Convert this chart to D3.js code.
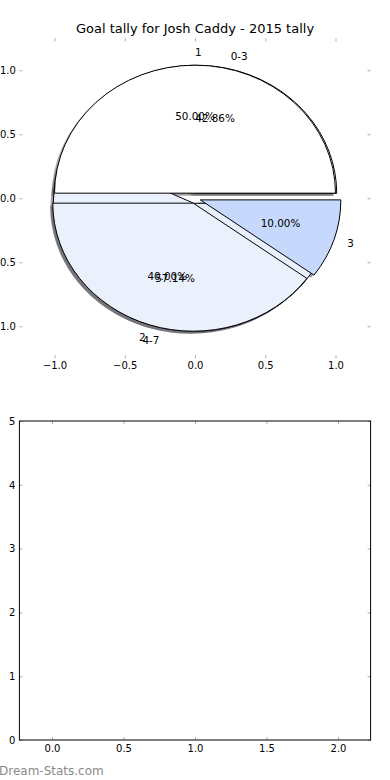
<!DOCTYPE html>
<html>
<head>
<meta charset="utf-8">
<script src="https://cdn.jsdelivr.net/npm/d3@7"></script>
<style>
body { margin: 0; background: #fff; }
text { font-family: "DejaVu Sans", sans-serif; }
</style>
</head>
<body>
<div id="chart"></div>
<script>
var titleText = "Goal tally for Josh Caddy - 2015 tally";
var tallyLabels = ["1", "2", "3"];
var tallyValues = [5, 4, 1];
var tallyColors = ["#ffffff", "#eaf1fd", "#c6d9fd"];
var rangeLabels = ["0-3", "4-7"];
var rangeValues = [3, 4];
var rangeColors = ["#ffffff", "#eaf1fd"];
var pieTicks = [-1.0, -0.5, 0.0, 0.5, 1.0];
var barXTicks = [0.0, 0.5, 1.0, 1.5, 2.0];
var barYTicks = [0, 1, 2, 3, 4, 5];

var width = 390;
var height = 780;
var explode = 0.04;
var shadowOffset = 0.02;

var svg = d3.select("#chart")
    .append("svg")
    .attr("width", width)
    .attr("height", height);

// pie axes (limits -1.25..1.25 like matplotlib)
var x = d3.scaleLinear().domain([-1.25, 1.25]).range([19.4, 370.6]);
var y = d3.scaleLinear().domain([-1.25, 1.25]).range([358.3, 38.3]);
var kx = x(1) - x(0);
var ky = y(0) - y(1);

function wedges(values, labels, colors) {
    var total = d3.sum(values);
    var pie = d3.pie().sort(null).startAngle(0).endAngle(2 * Math.PI);
    return pie(values).map(function(d, i) {
        var tm = (d.startAngle + d.endAngle) / 2;
        return {
            label: labels[i], color: colors[i],
            t1: d.startAngle, t2: d.endAngle, tm: tm,
            cx: explode * Math.cos(tm), cy: explode * Math.sin(tm),
            pct: (d.value / total * 100).toFixed(2) + "%"
        };
    });
}

var rangeW = wedges(rangeValues, rangeLabels, rangeColors);
var tallyW = wedges(tallyValues, tallyLabels, tallyColors);

var arc = d3.arc()
    .innerRadius(0)
    .outerRadius(1)
    .startAngle(function(d) { return Math.PI / 2 - d.t2; })
    .endAngle(function(d) { return Math.PI / 2 - d.t1; });

var pieG = svg.append("g");

// shadows sit under every wedge
pieG.append("g").selectAll("path")
    .data(rangeW.concat(tallyW))
    .enter()
        .append("path")
        .attr("d", arc)
        .attr("transform", function(d) {
            return "translate(" + x(d.cx - shadowOffset) + "," + y(d.cy - shadowOffset) + ") scale(" + kx + "," + ky + ")";
        })
        .attr("fill", function(d) {
            var c = d3.rgb(d.color);
            return d3.rgb(c.r * 0.3, c.g * 0.3, c.b * 0.3);
        })
        .attr("opacity", 0.5);

[rangeW, tallyW].forEach(function(ws) {
    pieG.append("g").selectAll("path")
        .data(ws)
        .enter()
            .append("path")
            .attr("d", arc)
            .attr("transform", function(d) {
                return "translate(" + x(d.cx) + "," + y(d.cy) + ") scale(" + kx + "," + ky + ")";
            })
            .attr("fill", function(d) { return d.color; })
            .attr("stroke", "#000")
            .attr("stroke-width", 1)
            .attr("vector-effect", "non-scaling-stroke");
});

[rangeW, tallyW].forEach(function(ws) {
    var g = pieG.append("g").attr("font-size", "10.4px").attr("fill", "#000");
    g.selectAll("text.lab")
        .data(ws)
        .enter()
            .append("text")
            .attr("x", function(d) { return x(d.cx + 1.1 * Math.cos(d.tm)); })
            .attr("y", function(d) { return y(d.cy + 1.1 * Math.sin(d.tm)); })
            .attr("dy", "0.36em")
            .attr("text-anchor", function(d) { return (d.cx + 1.1 * Math.cos(d.tm)) > 0 ? "start" : "end"; })
            .text(function(d) { return d.label; });
    g.selectAll("text.pct")
        .data(ws)
        .enter()
            .append("text")
            .attr("x", function(d) { return x(d.cx + 0.6 * Math.cos(d.tm)); })
            .attr("y", function(d) { return y(d.cy + 0.6 * Math.sin(d.tm)); })
            .attr("dy", "0.36em")
            .attr("text-anchor", "middle")
            .text(function(d) { return d.pct; });
});

svg.append("text")
    .attr("x", 195)
    .attr("y", 33)
    .attr("text-anchor", "middle")
    .attr("font-size", "13px")
    .text(titleText);

function styleAxis(g) {
    g.select(".domain").remove();
    g.selectAll(".tick line").attr("stroke", "#aaa");
    g.selectAll(".tick text").attr("font-size", "10px").attr("fill", "#000")
        .attr("font-family", "DejaVu Sans");
}

var f1 = d3.format(".1f");

svg.append("g").attr("transform", "translate(0," + y(-1.25) + ")")
    .call(d3.axisBottom(x).tickValues(pieTicks).tickSize(-3).tickPadding(3.5).tickFormat(f1))
    .call(styleAxis);
svg.append("g").attr("transform", "translate(0," + y(1.25) + ")")
    .call(d3.axisTop(x).tickValues(pieTicks).tickSize(-3).tickFormat(""))
    .call(styleAxis);
svg.append("g").attr("transform", "translate(" + x(-1.25) + ",0)")
    .call(d3.axisLeft(y).tickValues(pieTicks).tickSize(-3).tickPadding(3.5).tickFormat(f1))
    .call(styleAxis);
svg.append("g").attr("transform", "translate(" + x(1.25) + ",0)")
    .call(d3.axisRight(y).tickValues(pieTicks).tickSize(-3).tickFormat(""))
    .call(styleAxis);

// empty lower axes
var xb = d3.scaleLinear().domain([-0.228, 2.228]).range([19.4, 370.6]);
var yb = d3.scaleLinear().domain([0, 5]).range([740, 421]);

svg.append("g").attr("transform", "translate(0," + yb(0) + ")")
    .call(d3.axisBottom(xb).tickValues(barXTicks).tickSize(-3).tickPadding(5).tickFormat(f1))
    .call(styleAxis);
svg.append("g").attr("transform", "translate(0," + yb(5) + ")")
    .call(d3.axisTop(xb).tickValues(barXTicks).tickSize(-3).tickFormat(""))
    .call(styleAxis);
svg.append("g").attr("transform", "translate(" + xb.range()[0] + ",0)")
    .call(d3.axisLeft(yb).tickValues(barYTicks).tickSize(-3).tickPadding(4).tickFormat(d3.format("d")))
    .call(styleAxis);
svg.append("g").attr("transform", "translate(" + xb.range()[1] + ",0)")
    .call(d3.axisRight(yb).tickValues(barYTicks).tickSize(-3).tickFormat(""))
    .call(styleAxis);

svg.append("rect")
    .attr("x", xb.range()[0])
    .attr("y", yb(5))
    .attr("width", xb.range()[1] - xb.range()[0])
    .attr("height", yb(0) - yb(5))
    .attr("fill", "none")
    .attr("stroke", "#000")
    .attr("stroke-width", 1);

svg.append("text")
    .attr("x", -1)
    .attr("y", 775)
    .attr("font-size", "12px")
    .attr("fill", "#8a8a8a")
    .text("Dream-Stats.com");
</script>
</body>
</html>
